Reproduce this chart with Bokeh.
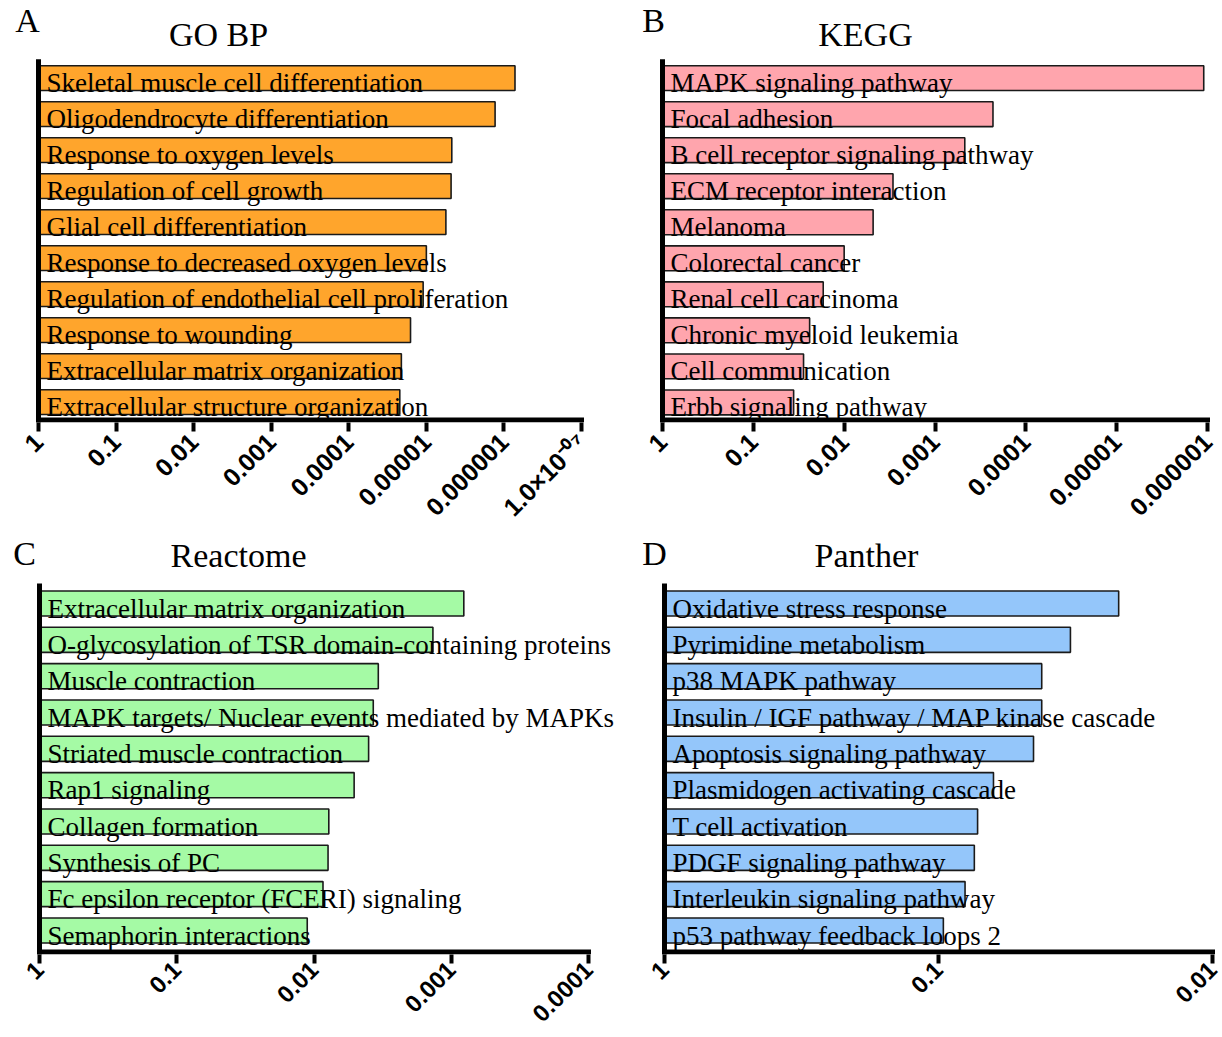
import math
from bokeh.plotting import figure
from bokeh.models import Range1d, FixedTicker, ColumnDataSource
from bokeh.layouts import column, row
from bokeh.embed import file_html
from bokeh.resources import INLINE
from bokeh.core.properties import value

# ---------------- data ----------------
gobp_terms = ["Skeletal muscle cell differentiation", "Oligodendrocyte differentiation",
              "Response to oxygen levels", "Regulation of cell growth",
              "Glial cell differentiation", "Response to decreased oxygen levels",
              "Regulation of endothelial cell proliferation", "Response to wounding",
              "Extracellular matrix organization", "Extracellular structure organization"]
gobp_p = [7.2e-7, 1.3e-6, 4.7e-6, 4.8e-6, 5.6e-6, 1.0e-5, 1.1e-5, 1.6e-5, 2.1e-5, 2.2e-5]
gobp_ticks = [1, 0.1, 0.01, 0.001, 0.0001, 0.00001, 0.000001, 1e-7]
gobp_tick_labels = ["1", "0.1", "0.01", "0.001", "0.0001", "0.00001", "0.000001",
                    "1.0\u00d710\u207b\u2070\u2077"]

kegg_terms = ["MAPK signaling pathway", "Focal adhesion", "B cell receptor signaling pathway",
              "ECM receptor interaction", "Melanoma", "Colorectal cancer",
              "Renal cell carcinoma", "Chronic myeloid leukemia", "Cell communication",
              "Erbb signaling pathway"]
kegg_p = [1.1e-6, 2.3e-4, 4.7e-4, 2.9e-3, 4.8e-3, 0.010, 0.017, 0.024, 0.028, 0.036]
kegg_ticks = [1, 0.1, 0.01, 0.001, 0.0001, 0.00001, 0.000001]
kegg_tick_labels = ["1", "0.1", "0.01", "0.001", "0.0001", "0.00001", "0.000001"]

reac_terms = ["Extracellular matrix organization", "O-glycosylation of TSR domain-containing proteins",
              "Muscle contraction", "MAPK targets/ Nuclear events mediated by MAPKs",
              "Striated muscle contraction", "Rap1 signaling", "Collagen formation",
              "Synthesis of PC", "Fc epsilon receptor (FCERI) signaling", "Semaphorin interactions"]
reac_p = [8.1e-4, 1.36e-3, 3.4e-3, 3.7e-3, 4.0e-3, 5.1e-3, 7.8e-3, 7.9e-3, 8.6e-3, 0.0112]
reac_ticks = [1, 0.1, 0.01, 0.001, 0.0001]
reac_tick_labels = ["1", "0.1", "0.01", "0.001", "0.0001"]

panther_terms = ["Oxidative stress response", "Pyrimidine metabolism", "p38 MAPK pathway",
                 "Insulin / IGF pathway / MAP kinase cascade", "Apoptosis signaling pathway",
                 "Plasmidogen activating cascade", "T cell activation", "PDGF signaling pathway",
                 "Interleukin signaling pathway", "p53 pathway feedback loops 2"]
panther_p = [0.022, 0.033, 0.042, 0.042, 0.045, 0.063, 0.072, 0.074, 0.080, 0.096]
panther_ticks = [1, 0.1, 0.01]
panther_tick_labels = ["1", "0.1", "0.01"]

SERIF = "Liberation Serif"
SANS = "Liberation Sans"


def panel(letter, title, terms, pvals, ticks, tick_labels, color, geo):
    # geo: page-pixel layout of this panel (figure box, axis origin, bar pitch)
    fx0, fy0, fw, fh = geo["fig"]
    x1px, xendpx = geo["x1px"], geo["xendpx"]
    ppd = (xendpx - x1px) / (-math.log10(ticks[-1]))
    c0, unit = geo["c0"], geo["unit"]
    fbot = geo["fbot"]

    def yd(py):  # page y -> data y
        return (py - c0) / unit

    x_start = 10 ** ((x1px - fx0) / ppd)
    x_end = 10 ** (-(fx0 + fw - x1px) / ppd)

    n = len(terms)
    src = ColumnDataSource(dict(
        y=list(range(n)),
        ty=[i + 0.14 for i in range(n)],
        p=pvals,
        term=terms,
    ))
    p = figure(width=fw, height=fh, x_axis_type="log",
               x_range=Range1d(start=x_start, end=x_end),
               y_range=Range1d(start=yd(fbot), end=yd(fy0)),
               output_backend="svg", toolbar_location=None,
               min_border_left=0, min_border_right=0,
               min_border_top=0, min_border_bottom=fy0 + fh - fbot)
    p.outline_line_color = None
    p.xgrid.visible = False
    p.ygrid.visible = False
    p.yaxis.visible = False
    p.background_fill_color = "white"
    p.border_fill_color = "white"

    p.hbar(y="y", left=1, right="p", height=0.69, source=src,
           fill_color=color, line_color="#1a1a1a", line_width=1.6)
    p.text(x=1, y="ty", text="term", source=src, x_offset=8,
           text_font=value(SERIF), text_font_size="27px",
           text_baseline="alphabetic", text_align="left", text_color="black")

    # axis lines
    p.segment(x0=[1], y0=[yd(geo["ytop"])], x1=[1], y1=[yd(fbot)],
              line_color="black", line_width=5)
    p.segment(x0=[1], y0=[yd(fbot - 2.5)], x1=[ticks[-1]], y1=[yd(fbot - 2.5)],
              line_color="black", line_width=5, line_cap="square")

    # panel title + letter
    p.text(x=[1], y=[yd(geo["title"][1])], text=[title], x_offset=geo["title"][0] - x1px,
           text_font=value(SERIF), text_font_size="34px",
           text_align="center", text_baseline="middle", text_color="black")
    p.text(x=[1], y=[yd(geo["letter"][1])], text=[letter], x_offset=geo["letter"][0] - x1px,
           text_font=value(SERIF), text_font_size="34px",
           text_align="center", text_baseline="middle", text_color="black")

    xa = p.xaxis[0]
    xa.ticker = FixedTicker(ticks=ticks)
    xa.major_label_overrides = {t: lab for t, lab in zip(ticks, tick_labels)}
    xa.axis_line_color = None
    xa.major_tick_line_width = 4
    xa.major_tick_line_color = "black"
    xa.major_tick_in = 0
    xa.major_tick_out = 9
    xa.minor_tick_line_color = None
    xa.major_label_orientation = math.pi / 4
    xa.major_label_text_font = SANS
    xa.major_label_text_font_style = "bold"
    xa.major_label_text_font_size = geo["tick_font"]
    xa.major_label_text_color = "black"
    xa.major_label_standoff = geo["standoff"]
    return p


geoA = dict(fig=(0, 0, 620, 534), x1px=38, xendpx=581, c0=78, unit=36.17, fbot=424,
            ytop=59, title=(218, 34), letter=(27, 20), tick_font="25px", standoff=6)
geoB = dict(fig=(620, 0, 602, 534), x1px=662, xendpx=1207, c0=78, unit=36.2, fbot=424,
            ytop=59, title=(865, 34), letter=(653, 20), tick_font="25px", standoff=6)
geoC = dict(fig=(0, 534, 620, 502), x1px=39, xendpx=588, c0=603, unit=36.33, fbot=954,
            ytop=583, title=(238, 555), letter=(24, 553), tick_font="24px", standoff=2)
geoD = dict(fig=(620, 534, 602, 502), x1px=664, xendpx=1212, c0=603, unit=36.33, fbot=954,
            ytop=583, title=(866, 555), letter=(654, 553), tick_font="24px", standoff=2)

pA = panel("A", "GO BP", gobp_terms, gobp_p, gobp_ticks, gobp_tick_labels, "#FFA52C", geoA)
pB = panel("B", "KEGG", kegg_terms, kegg_p, kegg_ticks, kegg_tick_labels, "#FFA5AD", geoB)
pC = panel("C", "Reactome", reac_terms, reac_p, reac_ticks, reac_tick_labels, "#A5FAA5", geoC)
pD = panel("D", "Panther", panther_terms, panther_p, panther_ticks, panther_tick_labels, "#94C6FA", geoD)

layout = column(row(pA, pB), row(pC, pD))
open("out.html", "w").write(file_html(layout, INLINE))
